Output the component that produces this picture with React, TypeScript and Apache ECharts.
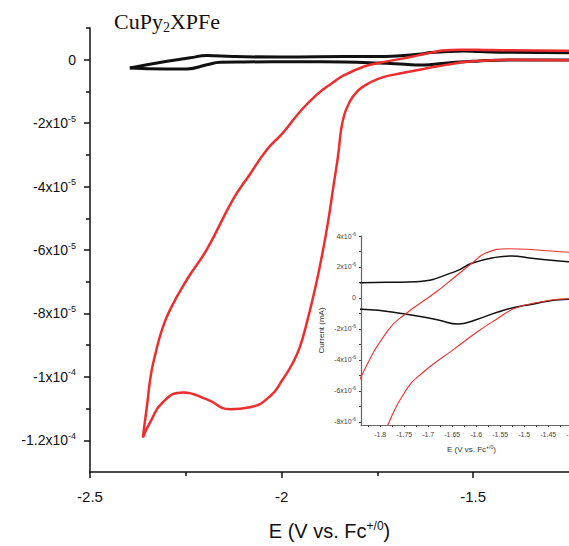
import React, { useEffect, useRef } from 'react';
import * as echarts from 'echarts';

// Potential E (V vs. Fc+/0) and current (µA)
const redForward: [number, number][] = [
  [-1.25, -0.2], [-1.408, -0.05], [-1.463, -0.24], [-1.519, -0.67], [-1.56, -1.42],
  [-1.596, -2.15], [-1.644, -3.25], [-1.713, -4.86], [-1.748, -6.04], [-1.783, -8.13],
  [-1.8, -9.7], [-1.821, -13.0], [-1.84, -19.0], [-1.853, -30.6], [-1.866, -40.9],
  [-1.879, -51.3], [-1.895, -62.0], [-1.913, -72.4], [-1.934, -82.8], [-1.953, -90.8],
  [-1.973, -96.1], [-1.996, -100.6], [-2.03, -106.1], [-2.083, -109.6], [-2.135, -110.2],
  [-2.195, -107.1], [-2.257, -104.9], [-2.31, -108.0], [-2.343, -114.3], [-2.362, -119.1],
];
const redReverse: [number, number][] = [
  [-2.362, -119.1], [-2.351, -108.8], [-2.341, -99.3], [-2.328, -92.1], [-2.312, -85.1],
  [-2.291, -78.8], [-2.247, -69.3], [-2.195, -59.8], [-2.127, -44.1], [-2.083, -36.2],
  [-2.038, -28.3], [-1.996, -23.0], [-1.952, -16.4], [-1.908, -11.0], [-1.866, -7.2],
  [-1.838, -4.97], [-1.783, -2.06], [-1.748, -1.05], [-1.685, 0.35], [-1.644, 1.37],
  [-1.609, 2.24], [-1.581, 2.88], [-1.533, 3.18], [-1.492, 3.14], [-1.408, 2.95], [-1.25, 2.8],
];
const blackForward: [number, number][] = [
  [-1.25, -0.1], [-1.408, -0.08], [-1.492, -0.45], [-1.546, -0.82], [-1.602, -1.42],
  [-1.638, -1.68], [-1.679, -1.42], [-1.748, -1.03], [-1.838, -0.73], [-1.952, -0.65],
  [-2.1, -0.7], [-2.16, -0.8], [-2.195, -1.6], [-2.247, -2.9], [-2.3, -2.9], [-2.396, -2.6],
];
const blackReverse: [number, number][] = [
  [-2.396, -2.6], [-2.299, -0.5], [-2.239, 0.6], [-2.195, 1.3], [-2.127, 1.0],
  [-2.004, 0.85], [-1.838, 0.99], [-1.727, 1.05], [-1.644, 1.7], [-1.609, 2.24],
  [-1.56, 2.62], [-1.526, 2.71], [-1.484, 2.56], [-1.408, 2.34], [-1.25, 2.2],
];

const mainXLabelValues = [-2.5, -2, -1.5];
const mainXMinorValues = [-2.25, -1.75];
const mainYLabelValues = [-120, -100, -80, -60, -40, -20, 0];
const mainYMinorValues = [-110, -90, -70, -50, -30, -10, 10];
const insetYLabelValues = [-8, -6, -4, -2, 0, 2, 4];
const insetYTickValues = [-8, -7, -6, -5, -4, -3, -2, -1, 0, 1, 2, 3, 4];
const insetXLabelValues = [-1.8, -1.75, -1.7, -1.65, -1.6, -1.55, -1.5, -1.45, -1.4];
const insetXTickValues = [-1.825, -1.8, -1.775, -1.75, -1.725, -1.7, -1.675, -1.65, -1.625, -1.6,
  -1.575, -1.55, -1.525, -1.5, -1.475, -1.45, -1.425, -1.4];

const SANS = 'Liberation Sans, Arial, sans-serif';
const SERIF = 'Liberation Serif, Times New Roman, serif';
const RED = '#ee2e2e';

export default function App() {
  const ref = useRef<HTMLDivElement>(null);
  useEffect(() => {
    if (!ref.current) return;
    const chart = echarts.init(ref.current, null, { renderer: 'svg' });
    const mainFmt = (v: number) => {
      const n = Math.round(v / 10);
      if (n === 0) return '{m|0}';
      if (Math.abs(n) >= 10) return `{m|${n / 10}x10}{e|-4}`;
      return `{m|${n}x10}{e|-5}`;
    };
    const insetFmt = (v: number) => {
      const n = Math.round(v);
      if (n === 0) return '{m|0}';
      return `{m|${n}x10}{e|-6}`;
    };
    const line = (data: [number, number][], color: string, width: number, xi: number, yi: number) => ({
      type: 'line', data, xAxisIndex: xi, yAxisIndex: yi, showSymbol: false, symbol: 'none',
      smooth: 0.5, lineStyle: { color, width }, itemStyle: { color }, silent: true,
    });
    chart.setOption({
      animation: false,
      backgroundColor: '#fff',
      title: {
        left: 114, top: 9, padding: 0,
        text: '{a|CuPy}{s|2}{a|XPFe}',
        textStyle: {
          fontWeight: 'normal',
          rich: {
            a: { fontFamily: SERIF, fontSize: 22, fontWeight: 'normal', color: '#111' },
            s: { fontFamily: SERIF, fontSize: 14, fontWeight: 'normal', color: '#111', padding: [11, 0, 0, 0] },
          },
        },
      },
      graphic: [
        {
          type: 'text', x: 329.5, y: 531,
          style: {
            text: '{a|E (V vs. Fc}{s|+/0}{a|)}', align: 'center', verticalAlign: 'middle',
            rich: {
              a: { fontFamily: SANS, fontSize: 20, fill: '#111' },
              s: { fontFamily: SANS, fontSize: 12, fill: '#111', padding: [0, 0, 11, 0] },
            },
          },
        },
      ],
      grid: [
        { left: 90, top: 28, width: 479, height: 444 },
        { left: 361, top: 236, width: 220.8, height: 189 },
      ],
      xAxis: [
        {
          type: 'value', gridIndex: 0, min: -2.5, max: -1.25,
          axisLine: { onZero: false, lineStyle: { color: '#111', width: 1.5 } },
          axisTick: { length: 6, customValues: mainXLabelValues, lineStyle: { color: '#111', width: 1.5 } },
          axisLabel: { fontFamily: SANS, fontSize: 15, color: '#111', margin: 17, customValues: mainXLabelValues },
          splitLine: { show: false },
        },
        {
          type: 'value', gridIndex: 1, min: -1.84, max: -1.38,
          axisLine: { onZero: false, lineStyle: { color: '#666', width: 1.2 } },
          axisTick: { length: 2, customValues: insetXTickValues, lineStyle: { color: '#444' } },
          axisLabel: {
            fontFamily: SANS, fontSize: 7, color: '#444', margin: 6, customValues: insetXLabelValues,
            formatter: (v: number) => String(Math.round(v * 100) / 100),
          },
          splitLine: { show: false },
          name: '{a|E (V vs. Fc}{s|+/0}{a|)}', nameLocation: 'middle', nameGap: 19,
          nameTextStyle: {
            rich: {
              a: { fontFamily: SANS, fontSize: 8, color: '#333' },
              s: { fontFamily: SANS, fontSize: 5, color: '#333', padding: [0, 0, 5, 0] },
            },
          },
        },
        {
          type: 'value', gridIndex: 0, min: -2.5, max: -1.25, position: 'bottom',
          axisLine: { show: false, onZero: false },
          axisTick: { length: 4, customValues: mainXMinorValues, lineStyle: { color: '#111', width: 1.5 } },
          axisLabel: { show: false },
          splitLine: { show: false },
        },
      ],
      yAxis: [
        {
          type: 'value', gridIndex: 0, min: -130, max: 10,
          axisLine: { onZero: false, lineStyle: { color: '#111', width: 1.5 } },
          axisTick: { length: 6, customValues: mainYLabelValues, lineStyle: { color: '#111', width: 1.5 } },
          axisLabel: {
            margin: 14, customValues: mainYLabelValues, formatter: mainFmt,
            rich: {
              m: { fontFamily: SANS, fontSize: 14, color: '#111' },
              e: { fontFamily: SANS, fontSize: 9, color: '#111', padding: [0, 0, 9, 0] },
            },
          },
          splitLine: { show: false },
        },
        {
          type: 'value', gridIndex: 0, min: -130, max: 10, position: 'left',
          axisLine: { show: false, onZero: false },
          axisTick: { length: 4, customValues: mainYMinorValues, lineStyle: { color: '#111', width: 1.5 } },
          axisLabel: { show: false },
          splitLine: { show: false },
        },
        {
          type: 'value', gridIndex: 1, min: -8.2, max: 4,
          axisLine: { onZero: false, lineStyle: { color: '#666', width: 1.2 } },
          axisTick: { length: 2, customValues: insetYTickValues, lineStyle: { color: '#444' } },
          axisLabel: {
            margin: 5, customValues: insetYLabelValues, formatter: insetFmt,
            rich: {
              m: { fontFamily: SANS, fontSize: 7, color: '#444' },
              e: { fontFamily: SANS, fontSize: 5, color: '#444', padding: [0, 0, 5, 0] },
            },
          },
          splitLine: { show: false },
          name: 'Current (mA)', nameLocation: 'middle', nameGap: 36,
          nameTextStyle: { fontFamily: SANS, fontSize: 8, color: '#333' },
        },
      ],
      series: [
        line(blackForward, '#111', 3, 0, 0),
        line(blackReverse, '#111', 3, 0, 0),
        line(redForward, RED, 2.5, 0, 0),
        line(redReverse, RED, 2.5, 0, 0),
        line(blackForward, '#111', 1.5, 1, 2),
        line(blackReverse, '#111', 1.5, 1, 2),
        line(redForward, RED, 1.1, 1, 2),
        line(redReverse, RED, 1.1, 1, 2),
      ],
    });
    return () => chart.dispose();
  }, []);
  return (
    <div style={{ position: 'absolute', left: 0, top: 0, width: 569, height: 546, overflow: 'hidden', background: '#fff' }}>
      <div ref={ref} style={{ width: 700, height: 546 }} />
    </div>
  );
}
